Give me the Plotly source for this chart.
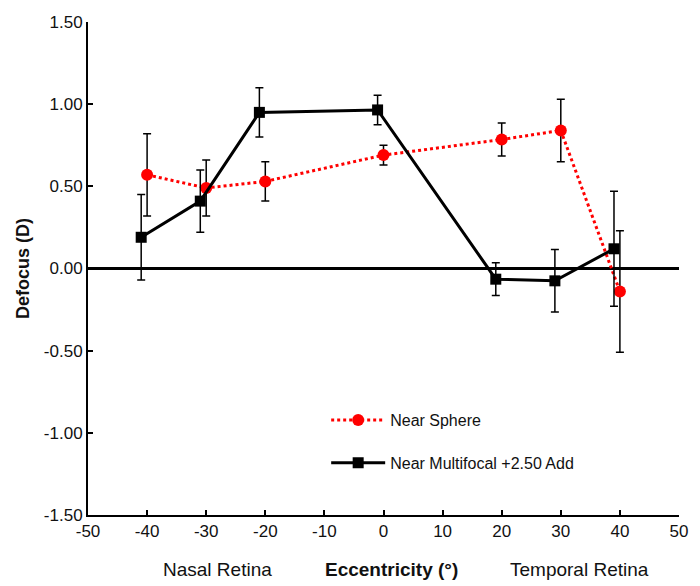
import plotly.graph_objects as go

# Data
sphere_x = [-40, -30, -20, 0, 20, 30, 40]
sphere_y = [0.57, 0.49, 0.53, 0.69, 0.785, 0.84, -0.14]
sphere_err = [0.25, 0.17, 0.12, 0.06, 0.10, 0.19, 0.37]

multi_x = [-41, -31, -21, -1, 19, 29, 39]
multi_y = [0.19, 0.41, 0.95, 0.965, -0.065, -0.075, 0.12]
multi_err = [0.26, 0.19, 0.15, 0.09, 0.10, 0.19, 0.35]

x_ticks = [-50, -40, -30, -20, -10, 0, 10, 20, 30, 40, 50]
y_ticks = [-1.5, -1.0, -0.5, 0.0, 0.5, 1.0, 1.5]

FONT = "Liberation Sans, Arial, sans-serif"

fig = go.Figure()

fig.add_trace(go.Scatter(
    x=sphere_x, y=sphere_y, mode="lines+markers", name="Near Sphere",
    line=dict(color="#ff0000", width=3, dash="dot"),
    marker=dict(symbol="circle", size=12, color="#ff0000"),
    error_y=dict(type="data", array=sphere_err, visible=True,
                 color="black", thickness=1.5, width=4),
    legendgroup="a",
))
fig.add_trace(go.Scatter(
    x=multi_x, y=multi_y, mode="lines+markers", name="Near Multifocal +2.50 Add",
    line=dict(color="black", width=3),
    marker=dict(symbol="square", size=11, color="black"),
    error_y=dict(type="data", array=multi_err, visible=True,
                 color="black", thickness=1.5, width=4),
    legendgroup="b",
))

fig.update_layout(
    width=700, height=586,
    margin=dict(l=88, r=17, t=22, b=71),
    paper_bgcolor="white", plot_bgcolor="white",
    font=dict(family=FONT, size=16, color="#111111"),
    showlegend=True,
    legend=dict(
        x=0.403, y=0.227, xanchor="left", yanchor="top",
        bgcolor="rgba(255,255,255,0)", itemwidth=54,
        font=dict(family=FONT, size=16, color="#111111"),
        tracegroupgap=19, traceorder="grouped",
    ),
    xaxis=dict(
        range=[-50, 50], tickvals=x_ticks, ticktext=[str(v) for v in x_ticks],
        showline=True, linecolor="black", linewidth=2,
        ticks="inside", ticklen=5, tickwidth=1.5, tickcolor="black",
        showgrid=False, zeroline=False,
        tickfont=dict(family=FONT, size=17, color="#111111"),
    ),
    yaxis=dict(
        range=[-1.5, 1.5], tickvals=y_ticks, ticktext=[f"{v:.2f}" for v in y_ticks],
        showline=True, linecolor="black", linewidth=2,
        ticks="inside", ticklen=5, tickwidth=1.5, tickcolor="black",
        showgrid=False, zeroline=True, zerolinecolor="black", zerolinewidth=2.5,
        tickfont=dict(family=FONT, size=17, color="#111111"),
        title=dict(text="<b>Defocus (D)</b>", font=dict(family=FONT, size=18, color="#111111"),
                   standoff=10),
    ),
    annotations=[
        dict(text="Nasal Retina", x=0.219, y=-0.11, xref="paper", yref="paper",
             showarrow=False, xanchor="center", yanchor="middle",
             font=dict(family=FONT, size=19, color="#111111")),
        dict(text="<b>Eccentricity (°)</b>", x=0.513, y=-0.11, xref="paper", yref="paper",
             showarrow=False, xanchor="center", yanchor="middle",
             font=dict(family=FONT, size=19, color="#111111")),
        dict(text="Temporal Retina", x=0.832, y=-0.11, xref="paper", yref="paper",
             showarrow=False, xanchor="center", yanchor="middle",
             font=dict(family=FONT, size=19, color="#111111")),
    ],
)

fig.write_html("out.html")
